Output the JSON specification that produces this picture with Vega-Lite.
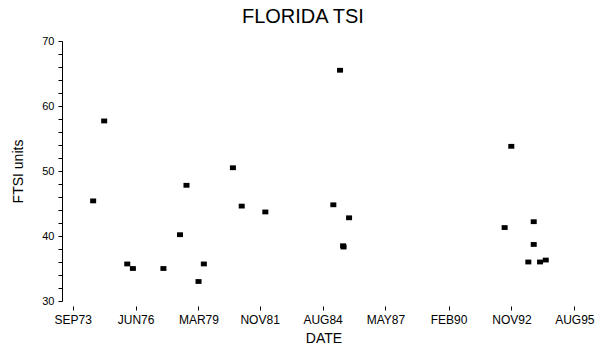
{
  "$schema": "https://vega.github.io/schema/vega-lite/v6.json",
  "width": 523,
  "height": 260,
  "autosize": {"type": "none"},
  "padding": {"left": 62, "top": 41, "right": 20, "bottom": 53},
  "background": "white",
  "title": {
    "text": "FLORIDA TSI",
    "font": "Liberation Sans",
    "fontSize": 20,
    "fontWeight": "normal",
    "color": "black",
    "anchor": "middle",
    "frame": "bounds",
    "offset": 8
  },
  "config": {
    "view": {"stroke": null},
    "axis": {"grid": false, "labelFont": "Liberation Sans", "titleFont": "Liberation Sans", "labelColor": "black", "titleColor": "black", "domainColor": "black", "tickColor": "black", "titleFontWeight": "normal"}
  },
  "data": {
    "values": [
      {"date": "1974-07-25", "ftsi": 45.4},
      {"date": "1975-01-17", "ftsi": 57.7},
      {"date": "1976-01-20", "ftsi": 35.7},
      {"date": "1976-04-19", "ftsi": 35.0},
      {"date": "1977-08-19", "ftsi": 35.0},
      {"date": "1978-05-11", "ftsi": 40.2},
      {"date": "1978-08-22", "ftsi": 47.8},
      {"date": "1979-03-02", "ftsi": 33.0},
      {"date": "1979-05-26", "ftsi": 35.7},
      {"date": "1980-09-01", "ftsi": 50.5},
      {"date": "1981-01-19", "ftsi": 44.6},
      {"date": "1982-01-31", "ftsi": 43.7},
      {"date": "1985-01-20", "ftsi": 44.8},
      {"date": "1985-05-07", "ftsi": 65.5},
      {"date": "1985-06-25", "ftsi": 38.5},
      {"date": "1985-07-02", "ftsi": 38.3},
      {"date": "1985-09-28", "ftsi": 42.8},
      {"date": "1992-07-15", "ftsi": 41.3},
      {"date": "1992-10-29", "ftsi": 53.8},
      {"date": "1993-07-28", "ftsi": 36.0},
      {"date": "1993-10-22", "ftsi": 42.2},
      {"date": "1993-10-22", "ftsi": 38.7},
      {"date": "1994-01-31", "ftsi": 36.0},
      {"date": "1994-05-02", "ftsi": 36.3}
    ]
  },
  "mark": {
    "type": "point",
    "shape": "M-1,-0.8H1V0.8H-1Z",
    "filled": true,
    "color": "black",
    "opacity": 1,
    "size": 36
  },
  "encoding": {
    "x": {
      "field": "date",
      "type": "temporal",
      "scale": {
        "type": "utc",
        "domain": [
          {"year": 1973, "month": 3, "date": 15, "utc": true},
          {"year": 1996, "month": 1, "date": 18, "utc": true}
        ]
      },
      "axis": {
        "title": "DATE",
        "titleFontSize": 14,
        "titlePadding": 6,
        "labelFontSize": 12,
        "domain": false,
        "offset": 5,
        "tickSize": 4,
        "labelPadding": 4,
        "labelOverlap": false,
        "labelFlush": false,
        "values": [
          {"year": 1973, "month": 9, "date": 1, "utc": true},
          {"year": 1976, "month": 6, "date": 1, "utc": true},
          {"year": 1979, "month": 3, "date": 1, "utc": true},
          {"year": 1981, "month": 11, "date": 1, "utc": true},
          {"year": 1984, "month": 8, "date": 1, "utc": true},
          {"year": 1987, "month": 5, "date": 1, "utc": true},
          {"year": 1990, "month": 2, "date": 1, "utc": true},
          {"year": 1992, "month": 11, "date": 1, "utc": true},
          {"year": 1995, "month": 8, "date": 1, "utc": true}
        ],
        "labelExpr": "upper(utcFormat(datum.value, '%b%y'))"
      }
    },
    "y": {
      "field": "ftsi",
      "type": "quantitative",
      "scale": {"domain": [30, 70], "nice": false, "zero": false},
      "axis": {
        "title": "FTSI units",
        "titleFontSize": 14,
        "titlePadding": 16,
        "labelFontSize": 11,
        "tickSize": 4,
        "labelPadding": 4,
        "values": [30, 32, 34, 36, 38, 40, 42, 44, 46, 48, 50, 52, 54, 56, 58, 60, 62, 64, 66, 68, 70],
        "labelExpr": "datum.value % 10 === 0 ? datum.label : ''",
        "labelOverlap": false,
        "labelFlush": false
      }
    }
  }
}
